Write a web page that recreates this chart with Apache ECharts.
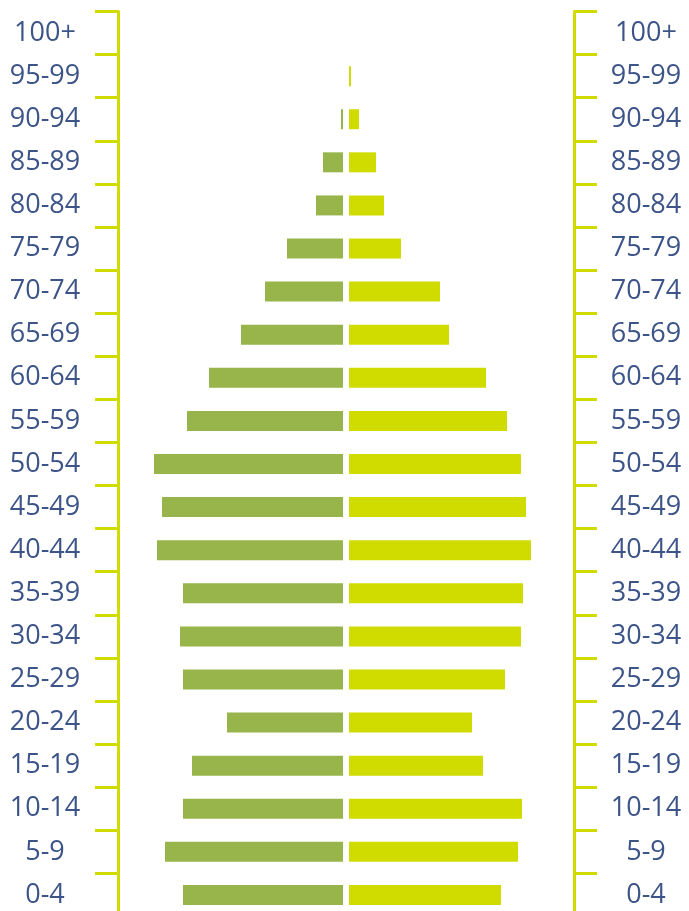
<!DOCTYPE html>
<html>
<head>
<meta charset="utf-8">
<script src="https://cdn.jsdelivr.net/npm/echarts@6/dist/echarts.min.js"></script>
<style>
  html, body { margin: 0; padding: 0; background: #fff; }
  #main { width: 689px; height: 911px; }
</style>
</head>
<body>
<div id="main"></div>
<script>
// age groups, bottom to top
var ageGroups = ['0-4', '5-9', '10-14', '15-19', '20-24', '25-29', '30-34', '35-39', '40-44', '45-49',
  '50-54', '55-59', '60-64', '65-69', '70-74', '75-79', '80-84', '85-89', '90-94', '95-99', '100+']
// left side (green)
var leftValues = [160, 178, 160, 151, 116, 160, 163, 160, 186, 181,
  189, 156, 134, 102, 78, 56, 27, 20, 2, 0, 0]
// right side (yellow)
var rightValues = [152, 169, 173, 134, 123, 156, 172, 174, 182, 177,
  172, 158, 137, 100, 91, 52, 35, 27, 10, 2, 0]
var maxValue = 225

var mychart = echarts.init(document.getElementById('main'))

var axisColor = '#d0dc00'
var labelStyle = {
  color: '#3c5488',
  fontFamily: 'Open Sans',
  fontSize: 27,
  align: 'center'
}

var option = {
  animation: false,
  grid: [
    { left: 118, width: 225, top: 11.5, height: 905, outerBoundsMode: 'none' },
    { left: 349, width: 225, top: 11.5, height: 905, outerBoundsMode: 'none' }
  ],
  xAxis: [
    { gridIndex: 0, type: 'value', inverse: true, min: 0, max: maxValue, show: false },
    { gridIndex: 1, type: 'value', min: 0, max: maxValue, show: false }
  ],
  yAxis: [
    {
      gridIndex: 0,
      type: 'category',
      position: 'left',
      data: ageGroups,
      axisLine: { show: true, onZero: false, lineStyle: { color: axisColor, width: 3 } },
      axisTick: { show: true, length: 23, lineStyle: { color: axisColor, width: 3 } },
      axisLabel: Object.assign({ margin: 73, interval: 0 }, labelStyle)
    },
    {
      gridIndex: 1,
      type: 'category',
      position: 'right',
      data: ageGroups,
      axisLine: { show: true, onZero: false, lineStyle: { color: axisColor, width: 3 } },
      axisTick: { show: true, length: 23, lineStyle: { color: axisColor, width: 3 } },
      axisLabel: Object.assign({ margin: 72, interval: 0 }, labelStyle)
    }
  ],
  series: [
    {
      name: 'left',
      type: 'bar',
      xAxisIndex: 0,
      yAxisIndex: 0,
      barWidth: 20,
      itemStyle: { color: '#97b54b' },
      data: leftValues
    },
    {
      name: 'right',
      type: 'bar',
      xAxisIndex: 1,
      yAxisIndex: 1,
      barWidth: 20,
      itemStyle: { color: '#d0dc00' },
      data: rightValues
    }
  ]
}
mychart.setOption(option)
</script>
</body>
</html>
